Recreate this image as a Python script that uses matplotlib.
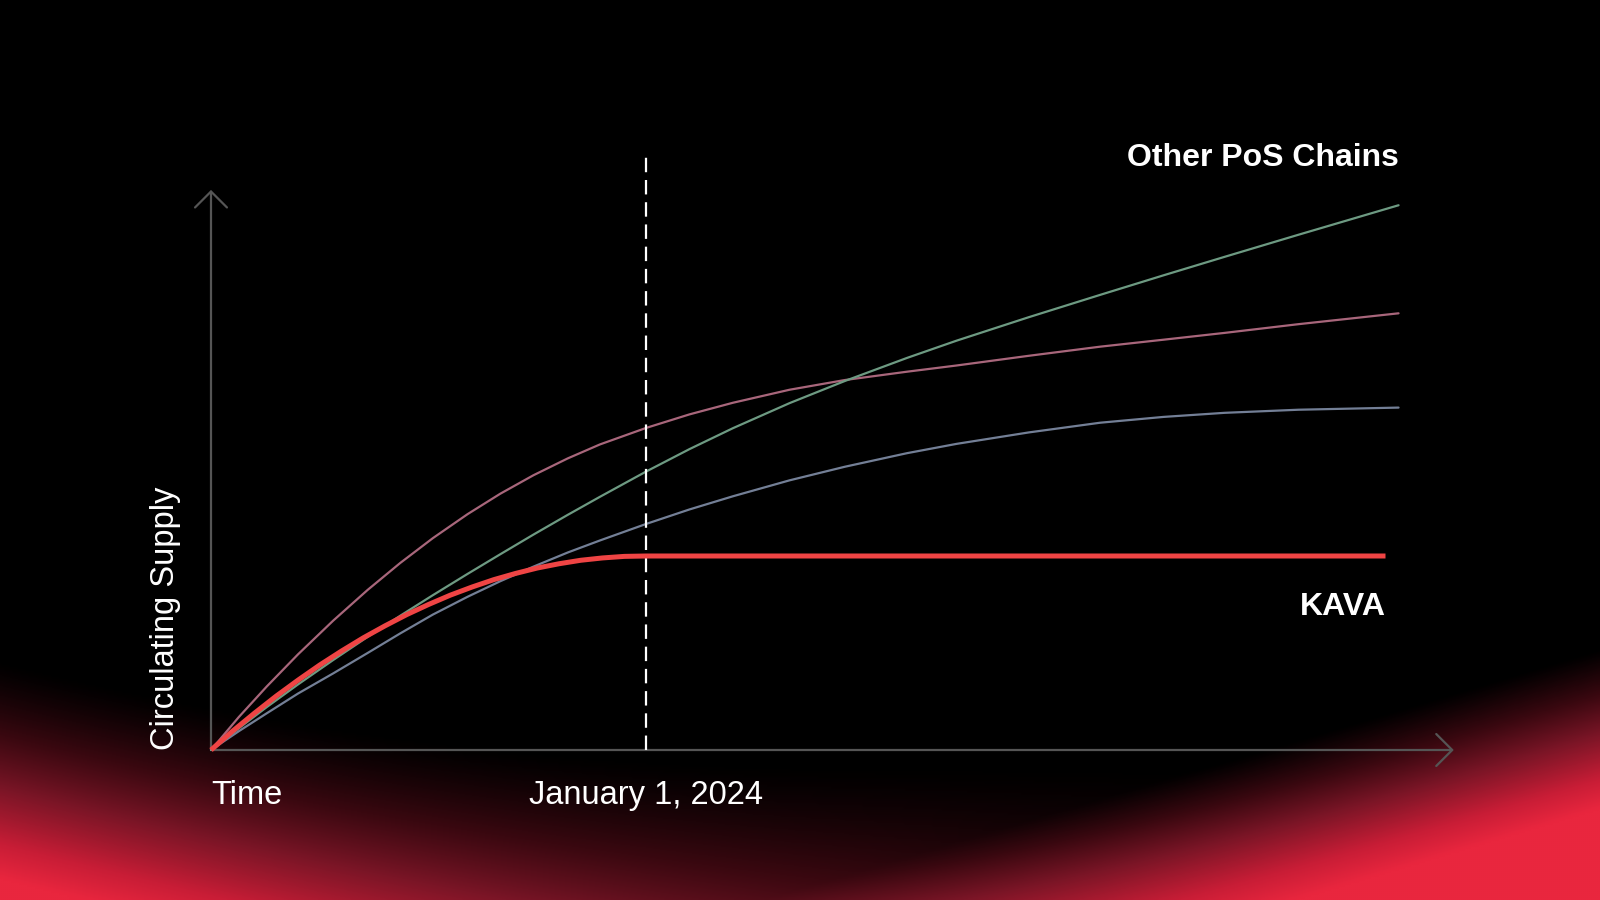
import numpy as np
import matplotlib.pyplot as plt
from matplotlib.colors import LinearSegmentedColormap

# time axis: 0 = launch, 1.0 = January 1, 2024 (supply in units of KAVA's cap)
t_others = [0, 0.064, 0.128, 0.2, 0.281, 0.36, 0.435, 0.51, 0.59, 0.665, 0.741, 0.82, 0.894,
            1.0, 1.1, 1.2, 1.33, 1.457, 1.6, 1.714, 1.88, 2.044, 2.19, 2.33, 2.5, 2.73]
supply_mauve = [0, 0.170, 0.327, 0.493, 0.667, 0.825, 0.964, 1.092, 1.216, 1.321, 1.416, 1.503, 1.575,
                1.660, 1.730, 1.790, 1.857, 1.907, 1.950, 1.982, 2.032, 2.079, 2.115, 2.150, 2.195, 2.251]
supply_green = [0, 0.112, 0.221, 0.338, 0.464, 0.583, 0.692, 0.798, 0.908, 1.009, 1.110, 1.212, 1.305,
                1.435, 1.551, 1.659, 1.788, 1.902, 2.021, 2.110, 2.231, 2.346, 2.447, 2.542, 2.656, 2.808]
supply_slate = [0, 0.097, 0.189, 0.291, 0.395, 0.500, 0.601, 0.698, 0.790, 0.870, 0.945, 1.018, 1.080,
                1.165, 1.240, 1.308, 1.390, 1.460, 1.530, 1.578, 1.637, 1.687, 1.717, 1.738, 1.754, 1.765]

t_kava = [0, 0.05, 0.1, 0.15, 0.2, 0.25, 0.3, 0.35, 0.4, 0.45, 0.5, 0.55, 0.6, 0.65, 0.7,
          0.75, 0.8, 0.85, 0.9, 0.95, 1.0, 2.70]
supply_kava = [0, 0.098, 0.19, 0.278, 0.36, 0.438, 0.51, 0.578, 0.64, 0.698, 0.75, 0.798, 0.84,
               0.878, 0.91, 0.938, 0.96, 0.978, 0.99, 0.998, 1.0, 1.0]

cutoff = 1.0
x_labels = ["Time", "January 1, 2024"]

plt.rcParams['font.family'] = ['Liberation Sans', 'DejaVu Sans']

fig = plt.figure(figsize=(16, 9), dpi=100, facecolor='black')

# Background: black with a red glow along the bottom (pixel coords, y down)
bg = fig.add_axes([0, 0, 1, 1])
bg.axis('off')
xx, yy = np.meshgrid(np.linspace(0, 1600, 800), np.linspace(0, 900, 450))

xl = np.minimum(xx, 800)
left_edge = 660 + 0.25 * xl - 0.00015 * xl ** 2
left = np.clip((yy - left_edge) / 220, 0, 1) ** 1.3 * np.exp(-(xx / 1100) ** 2)
right_edge = 650 + 0.3 * (1600 - xx)
right = np.clip((yy - right_edge) / 160, 0, 1) ** 1.1
glow = 1 - (1 - left) * (1 - right)
cmap = LinearSegmentedColormap.from_list(
    'glow', [(0, '#000000'), (0.25, '#3a0810'), (0.5, '#7a1526'), (0.8, '#c81d36'), (1.0, '#e9263e')])
bg.imshow(glow, cmap=cmap, vmin=0, vmax=1, aspect='auto', interpolation='bilinear',
          extent=(0, 1600, 900, 0))
bg.set_xlim(0, 1600)
bg.set_ylim(900, 0)

# Main chart axes (1 time unit = 435 px, 1 supply unit = 194 px)
ax = fig.add_axes([0, 0, 1, 1])
ax.patch.set_alpha(0)
ax.axis('off')
ax.set_xlim(-211 / 435, 1389 / 435)
ax.set_ylim(-150 / 194, 750 / 194)

axis_col = '#555555'
arrow = dict(arrowstyle='->,head_length=1.15,head_width=1.15', color=axis_col, lw=1.6,
             shrinkA=0, shrinkB=0)
ax.annotate('', xy=(2.857, 0), xytext=(0, 0), arrowprops=arrow)
ax.annotate('', xy=(0, 2.887), xytext=(0, 0), arrowprops=arrow)

# other chains
ax.plot(t_others, supply_mauve, color='#a8667b', lw=1.6, solid_capstyle='round', zorder=3)
ax.plot(t_others, supply_slate, color='#737f96', lw=1.6, solid_capstyle='round', zorder=3)
ax.plot(t_others, supply_green, color='#6d9a82', lw=1.6, solid_capstyle='round', zorder=3)

# KAVA
ax.plot(t_kava, supply_kava, color='#ef4444', lw=3.6, solid_capstyle='butt', zorder=5)

# Jan 1 2024 marker
ax.plot([cutoff, cutoff], [0, 3.077], color='white', lw=1.6, linestyle=(0, (6.5, 3.5)), zorder=4)

ax.text(2.73, 3.01, "Other PoS Chains", color='white', fontsize=23, fontweight='bold',
        ha='right', va='baseline')
ax.text(2.70, 0.696, "KAVA", color='white', fontsize=23, fontweight='bold',
        ha='right', va='baseline')
ax.text(0, -0.278, x_labels[0], color='white', fontsize=23.5, ha='left', va='baseline')
ax.text(cutoff, -0.278, x_labels[1], color='white', fontsize=23.5, ha='center', va='baseline')
ax.text(-0.105, 0, "Circulating Supply", color='white', fontsize=23.5, rotation=90,
        ha='center', va='bottom')

fig.savefig('out.png', dpi=100, facecolor='black')
